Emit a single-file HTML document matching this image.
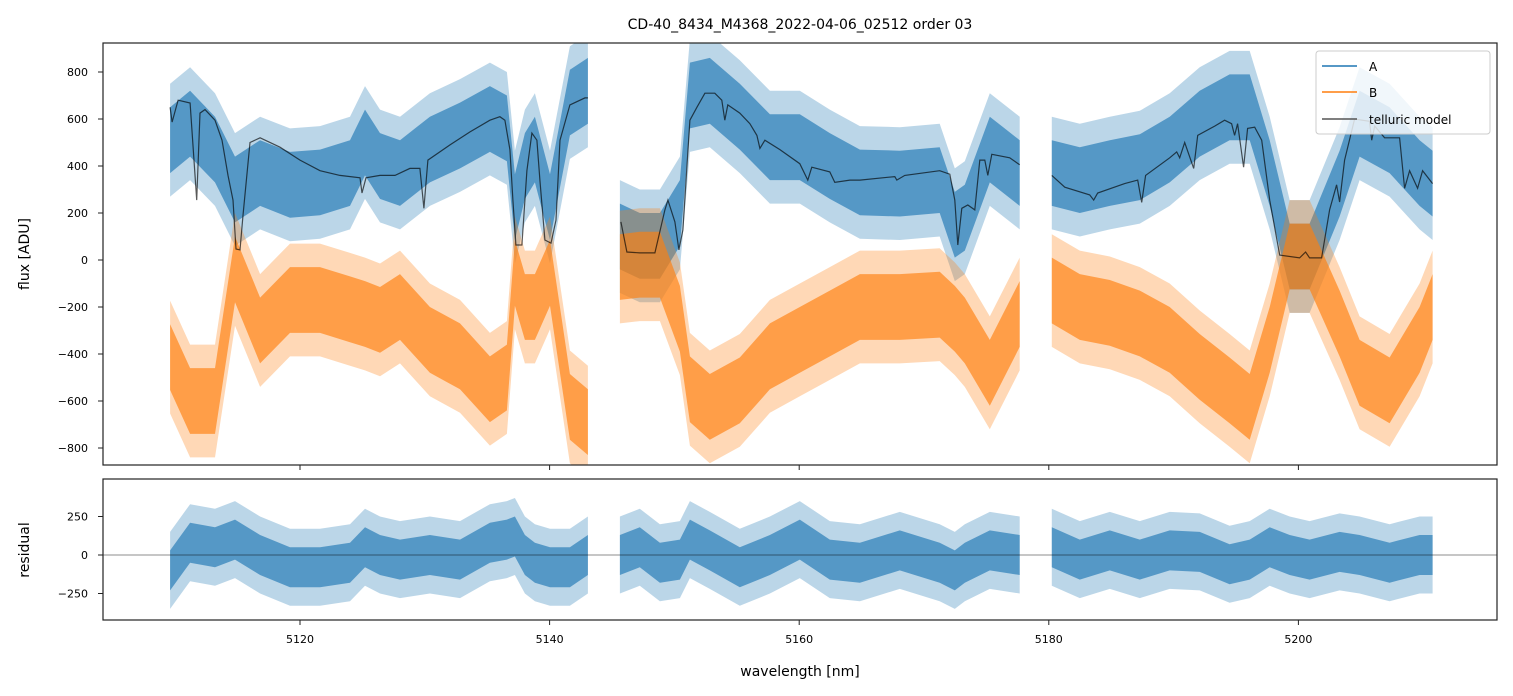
<!DOCTYPE html>
<html><head><meta charset="utf-8"><style>
body{margin:0;background:#fff;}
svg{display:block;font-family:"DejaVu Sans","Liberation Sans",sans-serif;}
</style></head><body>
<svg id="chart" width="1513" height="696" viewBox="0 0 1513 696">
<defs>
<clipPath id="clipTop"><rect x="103" y="43" width="1394" height="422"/></clipPath>
<clipPath id="clipBot"><rect x="103" y="479" width="1394" height="141"/></clipPath>
</defs>
<text x="800" y="29" text-anchor="middle" font-size="14" fill="#000">CD-40_8434_M4368_2022-04-06_02512  order 03</text>
<g id="topData" clip-path="url(#clipTop)"></g>
<g id="botData" clip-path="url(#clipBot)"></g>
<rect x="103" y="43" width="1394" height="422" fill="none" stroke="#222" stroke-width="1.2"/>
<rect x="103" y="479" width="1394" height="141" fill="none" stroke="#222" stroke-width="1.2"/>
<g id="axes"></g>
<text x="800" y="676" text-anchor="middle" font-size="14">wavelength [nm]</text>
<text transform="translate(29,254) rotate(-90)" text-anchor="middle" font-size="14">flux [ADU]</text>
<text transform="translate(29,550) rotate(-90)" text-anchor="middle" font-size="14">residual</text>
<g>
<rect x="1316" y="51" width="174" height="83" rx="3" fill="#fff" fill-opacity="0.8" stroke="#ccc"/>
<line x1="1322" y1="66" x2="1357" y2="66" stroke="#1f77b4" stroke-width="1.5"/>
<text x="1369" y="71" font-size="12">A</text>
<line x1="1322" y1="92" x2="1357" y2="92" stroke="#ff7f0e" stroke-width="1.5"/>
<text x="1369" y="97" font-size="12">B</text>
<line x1="1322" y1="119" x2="1357" y2="119" stroke="#555" stroke-width="1.5"/>
<text x="1369" y="124" font-size="12">telluric model</text>
</g>
</svg>
<script>
// ---- data ----
const seg1Wl = [5109.59,5111.19,5113.19,5114.79,5116.80,5119.20,5121.60,5124.01,5125.21,5126.41,5128.01,5130.41,5132.82,5135.22,5136.58,5137.22,5138.02,5138.82,5140.03,5141.63,5143.07];
const seg1A = [510,580,470,300,370,320,330,370,500,400,370,470,530,600,560,225,400,470,225,670,720];
const seg1B = [-413,-600,-600,-40,-300,-170,-170,-210,-230,-255,-200,-340,-410,-550,-500,-55,-200,-200,-55,-625,-690];
const seg1R = [-100,80,50,100,0,-80,-80,-50,50,0,-30,0,-30,80,100,120,0,-50,-80,-80,0];
const seg2Wl = [5145.63,5147.23,5148.84,5150.44,5151.24,5152.84,5155.24,5157.65,5160.05,5162.45,5164.86,5168.06,5171.26,5172.47,5173.27,5175.27,5177.67];
const seg2A = [100,60,60,200,700,720,610,480,480,400,330,325,340,150,180,470,370];
const seg2B = [-30,-20,-20,-250,-550,-625,-555,-410,-340,-270,-200,-200,-190,-250,-300,-480,-230];
const seg2R = [0,50,-50,-30,100,30,-80,0,100,-30,-50,30,-50,-100,-50,30,0];
const seg3Wl = [5180.24,5182.48,5184.89,5187.29,5189.69,5192.09,5194.49,5196.10,5197.70,5199.30,5200.90,5203.30,5204.90,5207.31,5209.71,5210.75];
const seg3A = [370,340,370,395,470,580,650,650,370,15,15,325,580,510,370,325];
const seg3B = [-130,-200,-225,-270,-340,-455,-555,-625,-340,15,15,-270,-480,-555,-340,-200];
const seg3R = [50,-30,30,-30,30,20,-60,-30,50,0,-30,20,0,-50,0,0];
const model1Wl = [5109.59,5109.75,5110.23,5111.19,5111.72,5111.99,5112.39,5113.19,5113.75,5114.23,5114.63,5114.87,5115.19,5115.43,5115.99,5116.80,5118.40,5120.00,5121.60,5123.20,5124.81,5124.97,5125.29,5126.41,5127.61,5128.81,5129.61,5129.93,5130.25,5132.02,5133.62,5135.22,5136.02,5136.42,5136.82,5137.06,5137.30,5137.78,5138.18,5138.58,5138.98,5139.22,5139.62,5140.11,5140.51,5140.83,5141.63,5142.83,5143.07];
const model1F = [650,587,680,668,255,625,640,595,510,360,255,47,43,190,500,520,480,425,380,360,350,285,350,360,360,390,390,220,425,490,545,595,610,595,470,255,64,64,380,540,510,340,85,72,170,510,660,690,690];
const model2Wl = [5145.71,5146.19,5147.23,5148.44,5149.24,5149.48,5150.04,5150.36,5150.68,5151.24,5151.80,5152.44,5153.24,5153.80,5154.04,5154.28,5155.24,5156.05,5156.61,5156.85,5157.25,5158.45,5160.05,5160.69,5161.01,5162.45,5162.85,5164.06,5164.86,5167.66,5167.82,5168.46,5171.26,5172.07,5172.47,5172.71,5173.03,5173.51,5174.07,5174.47,5174.87,5175.11,5175.43,5176.87,5177.67];
const model2F = [162,34,30,30,213,255,162,43,128,595,650,710,710,680,595,660,625,580,530,475,510,470,410,340,395,375,330,340,340,355,340,360,380,365,255,64,220,234,213,425,425,360,450,435,405];
const model3Wl = [5180.24,5181.28,5183.28,5183.60,5183.92,5186.08,5187.12,5187.44,5187.76,5189.69,5190.25,5190.49,5190.89,5191.61,5191.93,5193.29,5194.09,5194.65,5194.89,5195.13,5195.61,5195.93,5196.50,5197.06,5197.70,5198.50,5200.10,5200.58,5200.90,5201.86,5202.50,5203.06,5203.30,5203.70,5204.50,5205.70,5205.87,5206.11,5206.91,5208.11,5208.51,5208.91,5209.55,5209.95,5210.75];
const model3F = [360,310,277,255,285,325,340,245,360,435,460,435,500,390,530,570,595,580,530,580,395,560,565,510,255,21,9,34,9,9,213,320,247,425,600,590,510,570,520,520,305,380,305,380,325];
const fluxTicks = [800,600,400,200,0,-200,-400,-600,-800];
const resTicks = [250,0,-250];
const wlTicks = [5120,5140,5160,5180,5200];

// ---- scales ----
const X = w => 300 + (w - 5120) * 12.48;
const YT = f => 260 - f * 0.235;
const YB = r => 555 - r * 0.154;
const NS = 'http://www.w3.org/2000/svg';
const topG = document.getElementById('topData');
const botG = document.getElementById('botData');
const axG = document.getElementById('axes');

function band(g, wl, mid, half, ys, color, op, name) {
  const up = wl.map((w, i) => X(w).toFixed(1) + ',' + ys(mid[i] + half).toFixed(1));
  const lo = wl.map((w, i) => X(w).toFixed(1) + ',' + ys(mid[i] - half).toFixed(1)).reverse();
  const p = document.createElementNS(NS, 'polygon');
  p.setAttribute('points', up.concat(lo).join(' '));
  p.setAttribute('fill', color);
  p.setAttribute('fill-opacity', op);
  p.setAttribute('stroke', 'none');
  
  
  g.appendChild(p);
}
function line(g, wl, vals, ys, color, width, op, name) {
  const p = document.createElementNS(NS, 'polyline');
  p.setAttribute('points', wl.map((w, i) => X(w).toFixed(1) + ',' + ys(vals[i]).toFixed(1)).join(' '));
  p.setAttribute('fill', 'none');
  p.setAttribute('stroke', color);
  p.setAttribute('stroke-width', width);
  p.setAttribute('stroke-opacity', op);
  
  
  g.appendChild(p);
}
const segs = [[seg1Wl, seg1A, seg1B, seg1R], [seg2Wl, seg2A, seg2B, seg2R], [seg3Wl, seg3A, seg3B, seg3R]];
segs.forEach((s, k) => {
  band(topG, s[0], s[1], 240, YT, '#1f77b4', 0.3, 'series-a-spikes-seg' + (k + 1));
  band(topG, s[0], s[1], 140, YT, '#1f77b4', 0.65, 'series-a-seg' + (k + 1));
});
segs.forEach((s, k) => {
  band(topG, s[0], s[2], 240, YT, '#ff7f0e', 0.3, 'series-b-spikes-seg' + (k + 1));
  band(topG, s[0], s[2], 140, YT, '#ff7f0e', 0.65, 'series-b-seg' + (k + 1));
});
line(topG, model1Wl, model1F, YT, '#000', 1.2, 0.65, 'telluric-model-seg1');
line(topG, model2Wl, model2F, YT, '#000', 1.2, 0.65, 'telluric-model-seg2');
line(topG, model3Wl, model3F, YT, '#000', 1.2, 0.65, 'telluric-model-seg3');
segs.forEach((s, k) => {
  band(botG, s[0], s[3], 250, YB, '#1f77b4', 0.3, 'residual-spikes-seg' + (k + 1));
  band(botG, s[0], s[3], 130, YB, '#1f77b4', 0.65, 'residual-seg' + (k + 1));
});
const zl = document.createElementNS(NS, 'line');
zl.setAttribute('x1', 103); zl.setAttribute('x2', 1497);
zl.setAttribute('y1', YB(0)); zl.setAttribute('y2', YB(0));
zl.setAttribute('stroke', '#000'); zl.setAttribute('stroke-opacity', '0.6'); zl.setAttribute('stroke-width', '0.8');


botG.appendChild(zl);

function tick(x1, y1, x2, y2, name) {
  const t = document.createElementNS(NS, 'line');
  t.setAttribute('x1', x1); t.setAttribute('y1', y1); t.setAttribute('x2', x2); t.setAttribute('y2', y2);
  t.setAttribute('stroke', '#222'); t.setAttribute('stroke-width', '1');
  
  
  axG.appendChild(t);
}
function label(x, y, s, anchor, name) {
  const t = document.createElementNS(NS, 'text');
  t.setAttribute('x', x); t.setAttribute('y', y); t.setAttribute('font-size', '11');
  t.setAttribute('text-anchor', anchor);
  t.textContent = s;
  
  
  axG.appendChild(t);
}
fluxTicks.forEach(v => {
  const y = YT(v);
  tick(98, y, 103, y, 'flux-y-tick');
  label(88, y + 4, String(v).replace('-', '\u2212'), 'end', 'flux-y-tick-label');
});
resTicks.forEach(v => {
  const y = YB(v);
  tick(98, y, 103, y, 'residual-y-tick');
  label(88, y + 4, String(v).replace('-', '\u2212'), 'end', 'residual-y-tick-label');
});
wlTicks.forEach(v => {
  const x = X(v);
  tick(x, 465, x, 470, 'flux-x-tick');
  tick(x, 620, x, 625, 'x-tick');
  label(x, 643, v, 'middle', 'x-tick-label');
});
</script>
</body></html>
